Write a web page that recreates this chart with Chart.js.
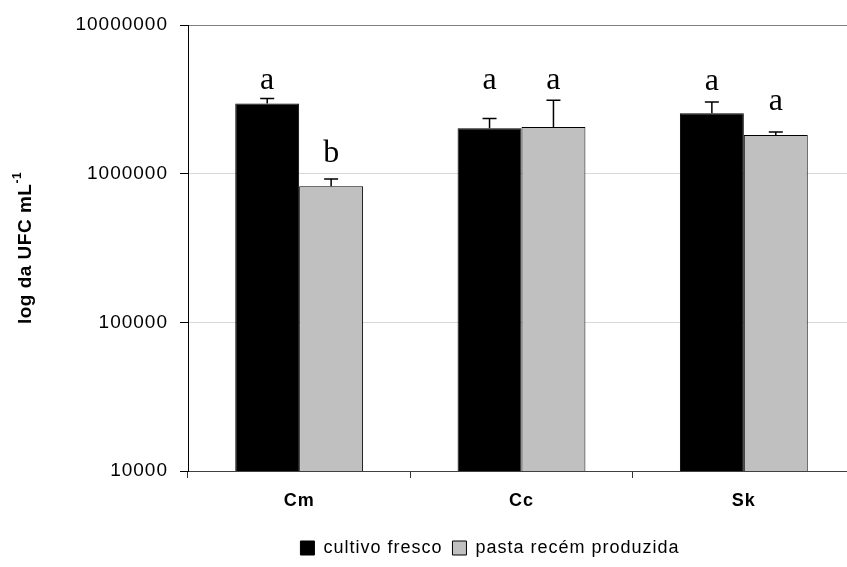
<!DOCTYPE html>
<html>
<head>
<meta charset="utf-8">
<script src="https://cdn.jsdelivr.net/npm/chart.js@4"></script>
<style>
  html, body { margin: 0; padding: 0; overflow: hidden; background: #fff; }
  #wrap { width: 980px; height: 567px; }
</style>
</head>
<body>
<div id="wrap"><canvas id="chart" width="980" height="567"></canvas></div>
<script>
/* ── Data ── */
const categories = ['Cm', 'Cc', 'Sk'];
const freshCulture = [2970000, 2020000, 2550000];
const freshPaste = [822000, 2060000, 1820000];
const freshCultureErr = [230000, 330000, 490000];
const freshPasteErr = [98000, 1060000, 90000];
const freshCultureLetters = ['a', 'a', 'a'];
const freshPasteLetters = ['b', 'a', 'a'];
// height (in UFC mL-1) where each letter sits
const freshCultureLetterAt = [3730000, 3730000, 3680000];
const freshPasteLetterAt = [1200000, 3730000, 2700000];
const yTicks = [10000, 100000, 1000000, 10000000];

const SANS = '"Liberation Sans", Arial, sans-serif';
const SERIF = '"Liberation Serif", "Times New Roman", serif';

/* ── Slightly wider letter spacing, like the original ── */
const spacingPlugin = {
    id: 'spacing',
    beforeUpdate: (chart) => { chart.ctx.letterSpacing = '1px'; },
    beforeRender: (chart) => { chart.ctx.letterSpacing = '1px'; }
};

/* ── Error bars + significance letters ── */
const errorPlugin = {
    id: 'errors',
    afterDatasetsDraw: (chart) => {
        const { ctx, scales: { y } } = chart;
        chart.data.datasets.forEach((ds, i) => {
            const meta = chart.getDatasetMeta(i);
            meta.data.forEach((bar, j) => {
                const top = y.getPixelForValue(ds.data[j] + ds.errors[j]);
                ctx.save();
                ctx.strokeStyle = '#000';
                ctx.lineWidth = 1.5;
                ctx.beginPath();
                ctx.moveTo(bar.x, bar.y);
                ctx.lineTo(bar.x, top);
                ctx.moveTo(bar.x - 7, top);
                ctx.lineTo(bar.x + 7, top);
                ctx.stroke();

                ctx.letterSpacing = '0px';
                ctx.fillStyle = '#000';
                ctx.font = `32px ${SERIF}`;
                ctx.textAlign = 'center';
                ctx.textBaseline = 'alphabetic';
                ctx.fillText(ds.letters[j], bar.x, y.getPixelForValue(ds.letterAt[j]));
                ctx.restore();
            });
        });
    }
};

/* ── Y axis title with superscript ── */
const yTitlePlugin = {
    id: 'yTitle',
    afterDraw: (chart) => {
        const { ctx, chartArea } = chart;
        const main = 'log da UFC mL';
        const sup = '-1';
        ctx.save();
        ctx.letterSpacing = '0.5px';
        ctx.fillStyle = '#000';
        ctx.textBaseline = 'middle';
        ctx.font = `bold 19px ${SANS}`;
        const w1 = ctx.measureText(main).width;
        ctx.font = `bold 12px ${SANS}`;
        const w2 = ctx.measureText(sup).width;
        ctx.translate(chartArea.left - 162, (chartArea.top + chartArea.bottom) / 2);
        ctx.rotate(-Math.PI / 2);
        const x0 = -(w1 + w2) / 2;
        ctx.font = `bold 19px ${SANS}`;
        ctx.textAlign = 'left';
        ctx.fillText(main, x0, 0);
        ctx.font = `bold 12px ${SANS}`;
        ctx.fillText(sup, x0 + w1, -8);
        ctx.restore();
    }
};

const ctx = document.getElementById('chart').getContext('2d');
new Chart(ctx, {
    type: 'bar',
    data: {
        labels: categories,
        datasets: [{
            label: 'cultivo fresco',
            data: freshCulture,
            errors: freshCultureErr,
            letters: freshCultureLetters,
            letterAt: freshCultureLetterAt,
            backgroundColor: '#000000',
            borderColor: '#000000',
            borderWidth: 1
        }, {
            label: 'pasta recém produzida',
            data: freshPaste,
            errors: freshPasteErr,
            letters: freshPasteLetters,
            letterAt: freshPasteLetterAt,
            backgroundColor: '#c0c0c0',
            borderColor: '#000000',
            borderWidth: 1
        }]
    },
    options: {
        responsive: false,
        animation: false,
        barPercentage: 1,
        categoryPercentage: 0.575,
        layout: { padding: { left: 0, right: 0, top: 25, bottom: 0 } },
        plugins: {
            legend: {
                position: 'bottom',
                labels: {
                    boxWidth: 14,
                    boxHeight: 14,
                    padding: 10,
                    color: '#000',
                    font: { family: SANS, size: 18 }
                }
            },
            tooltip: { enabled: false }
        },
        scales: {
            x: {
                offset: true,
                grid: {
                    offset: true,
                    drawOnChartArea: false,
                    drawTicks: true,
                    tickLength: 7,
                    tickColor: '#333'
                },
                border: { color: '#404040', width: 1 },
                ticks: { color: '#000', padding: 12, font: { family: SANS, size: 18, weight: 'bold' } },
                afterFit: (scale) => { scale.height = 58; }
            },
            y: {
                type: 'logarithmic',
                min: 10000,
                max: 10000000,
                afterBuildTicks: (scale) => { scale.ticks = yTicks.map(v => ({ value: v })); },
                afterFit: (scale) => { scale.width = 188; },
                grid: {
                    color: (c) => c.tick && c.tick.value === 10000000 ? '#808080'
                        : c.tick && c.tick.value === 10000 ? 'rgba(0,0,0,0)' : '#d9d9d9',
                    tickColor: '#000',
                    tickLength: 8
                },
                border: { color: '#000', width: 1 },
                ticks: {
                    color: '#000',
                    padding: 12,
                    font: { family: SANS, size: 19 },
                    callback: (v) => String(v)
                }
            },
            // empty spacer on the cropped right side, keeps the legend where it was
            spacer: {
                type: 'linear',
                position: 'right',
                grid: { display: false },
                border: { display: false },
                ticks: { display: false },
                afterFit: (scale) => { scale.width = 125; }
            }
        }
    },
    plugins: [spacingPlugin, errorPlugin, yTitlePlugin]
});
</script>
</body>
</html>
